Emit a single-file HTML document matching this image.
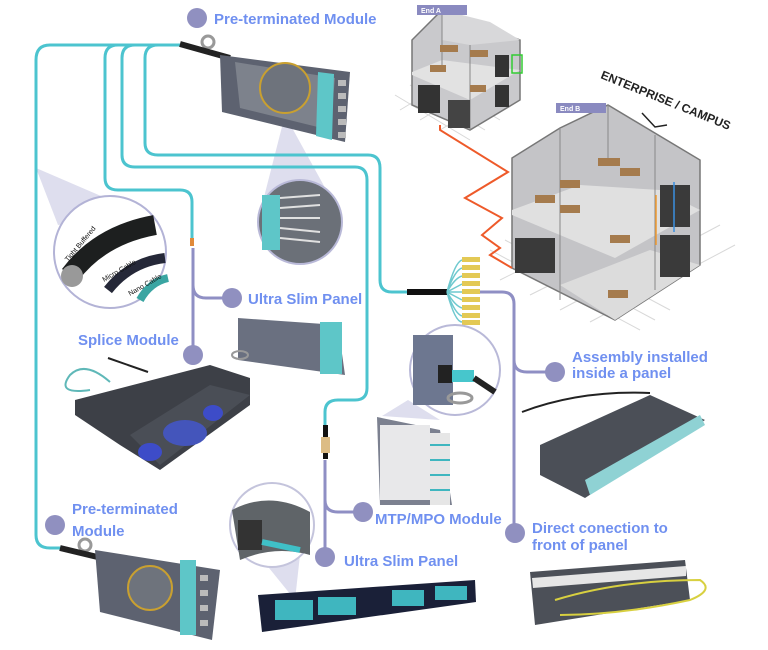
<!DOCTYPE html>
<html><head><style>
body{margin:0;background:#fff;}
svg{display:block;}
.lb{font-family:"Liberation Sans",sans-serif;font-weight:bold;fill:#7090f0;font-size:15px;}
</style></head><body>
<svg width="768" height="650" viewBox="0 0 768 650" xmlns="http://www.w3.org/2000/svg">
<!-- buildings -->
<g stroke="#d8d8d8" stroke-width="1" fill="none">
<path d="M395 95 L470 140 M410 85 L485 130 M425 75 L500 120 M400 110 L450 80 M420 120 L470 90 M440 130 L490 100"/>
<path d="M490 250 L640 330 M505 240 L655 320 M520 230 L670 310 M500 280 L680 190 M530 295 L700 210 M560 310 L720 225 M590 322 L735 245"/>
</g>
<polygon points="412,40 442,10 520,40 520,100 470,130 412,105" fill="#c9c9cc" stroke="#777" stroke-width="1.5"/>
<polygon points="412,72 442,60 520,70 470,100 412,75" fill="#e2e2e2"/>
<polygon points="442,10 490,22 520,40 470,45 442,40" fill="#d8d8da"/>
<line x1="442" y1="10" x2="442" y2="70" stroke="#888"/><line x1="470" y1="45" x2="470" y2="130" stroke="#888"/>
<rect x="418" y="85" width="22" height="28" fill="#333"/><rect x="448" y="100" width="22" height="28" fill="#444"/>
<rect x="495" y="55" width="14" height="22" fill="#333"/><rect x="495" y="85" width="14" height="22" fill="#333"/>
<rect x="512" y="55" width="10" height="18" fill="none" stroke="#3c3" stroke-width="1.5"/>
<rect x="417" y="5" width="50" height="10" fill="#8a8ac0"/><text x="421" y="13" font-family="Liberation Sans" font-size="7" font-weight="bold" fill="#fff">End A</text>
<polygon points="512,158 560,128 608,105 700,160 700,265 615,320 512,268" fill="#c4c4c7" stroke="#777" stroke-width="1.5"/>
<polygon points="512,210 580,185 660,190 700,210 615,258 512,215" fill="#e0e0e0"/>
<polygon points="560,285 650,250 700,265 615,320" fill="#dcdcdc"/>
<line x1="608" y1="105" x2="608" y2="165" stroke="#888"/><line x1="560" y1="128" x2="560" y2="300" stroke="#888"/><line x1="655" y1="135" x2="655" y2="290" stroke="#888"/>
<rect x="515" y="238" width="40" height="35" fill="#3a3a3a"/><rect x="660" y="185" width="30" height="42" fill="#3a3a3a"/><rect x="660" y="235" width="30" height="42" fill="#3a3a3a"/>
<line x1="656" y1="195" x2="656" y2="245" stroke="#f09a30" stroke-width="1.5"/><line x1="674" y1="182" x2="674" y2="232" stroke="#3a90e0" stroke-width="1.5"/>
<g fill="#a57b4d"><rect x="598" y="158" width="22" height="8"/><rect x="620" y="168" width="20" height="8"/><rect x="560" y="180" width="20" height="8"/><rect x="535" y="195" width="20" height="8"/><rect x="560" y="205" width="20" height="8"/><rect x="610" y="235" width="20" height="8"/><rect x="608" y="290" width="20" height="8"/><rect x="440" y="45" width="18" height="7"/><rect x="470" y="50" width="18" height="7"/><rect x="430" y="65" width="16" height="7"/><rect x="470" y="85" width="16" height="7"/></g>
<rect x="556" y="103" width="50" height="10" fill="#8a8ac0"/><text x="560" y="111" font-family="Liberation Sans" font-size="7" font-weight="bold" fill="#fff">End B</text>
<polyline points="440,125 440,130 508,172 465,198 502,218 482,235 500,248 490,255 512,268" fill="none" stroke="#ee5a2a" stroke-width="2"/>
<text x="600" y="78" font-family="Liberation Sans" font-size="12" font-weight="bold" fill="#222" transform="rotate(22 600 78)">ENTERPRISE / CAMPUS</text>
<polyline points="642,113 655,127 667,125" fill="none" stroke="#222" stroke-width="1.5"/>

<!-- cones -->
<polygon points="285,115 262,205 340,215" fill="#d6d6ea" opacity="0.8"/>
<polygon points="36,168 58,225 145,215" fill="#d6d6ea" opacity="0.8"/>
<polygon points="408,400 382,416 440,420" fill="#d6d6ea" opacity="0.8"/>
<polygon points="230,520 295,600 300,555" fill="#d6d6ea" opacity="0.8"/>

<!-- cyan lines -->
<g fill="none" stroke="#4cc4cf" stroke-width="3">
<path d="M185 45 H50 Q36 45 36 60 V535 Q36 548 50 548 H62"/>
<path d="M185 45 H118 Q105 45 105 58 V178 Q105 190 118 190 H180 Q192 190 192 202 V245"/>
<path d="M185 45 H135 Q122 45 122 58 V155 Q122 167 135 167 H355 Q367 167 367 180 V388 Q367 400 355 400 H338 Q325 400 325 412 V428"/>
<path d="M185 45 H158 Q145 45 145 58 V143 Q145 155 158 155 H368 Q380 155 380 168 V280 Q380 292 392 292 H410"/>
</g>
<!-- purple lines -->
<g fill="none" stroke="#8f8fc4" stroke-width="3">
<path d="M193 248 V353 M193 285 Q193 298 206 298 H232"/>
<path d="M325 460 V557 M325 500 Q325 512 338 512 H363"/>
<path d="M480 292 H502 Q514 292 514 304 V533 M514 360 Q514 372 527 372 H552"/>
</g>
<rect x="190" y="238" width="4" height="8" fill="#e08a3a"/>
<rect x="323" y="425" width="5" height="12" fill="#111"/><rect x="321" y="437" width="9" height="16" fill="#dcbc85"/><rect x="323" y="453" width="5" height="6" fill="#111"/>
<rect x="407" y="289" width="40" height="6" fill="#111"/>
<g stroke="#6fc9cf" stroke-width="1.5" fill="none"><path d="M447 292 Q455 262 462 260 M447 292 Q455 270 462 268 M447 292 Q455 278 462 276 M447 292 L462 284 M447 292 L462 292 M447 292 L462 300 M447 292 Q455 306 462 308 M447 292 Q455 314 462 316 M447 292 Q455 322 462 322"/></g>
<g fill="#e3c955"><rect x="462" y="257" width="18" height="5"/><rect x="462" y="265" width="18" height="5"/><rect x="462" y="273" width="18" height="5"/><rect x="462" y="281" width="18" height="5"/><rect x="462" y="289" width="18" height="5"/><rect x="462" y="297" width="18" height="5"/><rect x="462" y="305" width="18" height="5"/><rect x="462" y="313" width="18" height="5"/><rect x="462" y="320" width="18" height="5"/></g>

<!-- top module -->
<circle cx="208" cy="42" r="6" fill="none" stroke="#999" stroke-width="3"/>
<line x1="180" y1="44" x2="230" y2="58" stroke="#222" stroke-width="6"/>
<polygon points="220,55 350,72 345,142 222,112" fill="#5d6270"/>
<polygon points="235,62 335,78 330,130 240,108" fill="#7d828c"/>
<circle cx="285" cy="88" r="25" fill="#6e737c" stroke="#c9a030" stroke-width="2"/>
<polygon points="318,72 334,74 332,140 316,136" fill="#5ec6c8"/>
<g fill="#bbb"><rect x="338" y="80" width="8" height="6"/><rect x="338" y="93" width="8" height="6"/><rect x="338" y="106" width="8" height="6"/><rect x="338" y="119" width="8" height="6"/><rect x="338" y="132" width="8" height="6"/></g>
<!-- zoom circle top -->
<circle cx="300" cy="222" r="42" fill="#6b7078" stroke="#b9b9d8" stroke-width="2"/>
<rect x="262" y="195" width="18" height="55" fill="#5ec6c8"/>
<g stroke="#e0e0e0" stroke-width="2"><line x1="280" y1="198" x2="320" y2="195"/><line x1="280" y1="208" x2="320" y2="205"/><line x1="280" y1="218" x2="320" y2="218"/><line x1="280" y1="228" x2="320" y2="232"/><line x1="280" y1="238" x2="320" y2="242"/></g>
<!-- cable circle -->
<circle cx="110" cy="252" r="56" fill="#fff" stroke="#b3b3d6" stroke-width="2"/>
<path d="M70 275 Q100 235 155 225" stroke="#1d1f1f" stroke-width="20" fill="none"/>
<path d="M108 290 Q130 262 165 258" stroke="#252838" stroke-width="10" fill="none"/>
<path d="M140 300 Q150 282 168 278" stroke="#3aa5a2" stroke-width="8" fill="none"/>
<circle cx="72" cy="276" r="11" fill="#999"/>
<text x="68" y="262" font-family="Liberation Sans" font-size="7" fill="#111" transform="rotate(-50 68 262)">Tight Buffered</text>
<text x="104" y="282" font-family="Liberation Sans" font-size="7" fill="#111" transform="rotate(-30 104 282)">Micro Cable</text>
<text x="130" y="296" font-family="Liberation Sans" font-size="7" fill="#111" transform="rotate(-30 130 296)">Nano Cable</text>

<!-- ultra slim small -->
<polygon points="238,318 338,325 345,375 238,360" fill="#6a7080"/>
<rect x="320" y="322" width="22" height="52" fill="#5ec6c8"/>
<ellipse cx="240" cy="355" rx="8" ry="4" fill="none" stroke="#999" stroke-width="2"/>
<!-- splice module -->
<polygon points="75,400 210,365 250,378 250,405 160,470 120,445 75,415" fill="#3d4047"/>
<polygon points="130,435 210,385 250,395 160,465" fill="#4a4e56"/>
<ellipse cx="185" cy="433" rx="22" ry="13" fill="#4455bb"/><ellipse cx="150" cy="452" rx="12" ry="9" fill="#3d4cc8"/><ellipse cx="213" cy="413" rx="10" ry="8" fill="#3d4cc8"/>
<path d="M90 390 Q55 395 70 375 Q85 360 110 382" fill="none" stroke="#5fb8b8" stroke-width="2"/>
<line x1="108" y1="358" x2="148" y2="372" stroke="#222" stroke-width="2"/>
<!-- bottom module -->
<circle cx="85" cy="545" r="6" fill="none" stroke="#999" stroke-width="3"/>
<line x1="60" y1="548" x2="110" y2="560" stroke="#222" stroke-width="6"/>
<polygon points="95,550 220,570 212,640 100,612" fill="#5d6270"/>
<circle cx="150" cy="588" r="22" fill="#6e737c" stroke="#c9a030" stroke-width="2"/>
<rect x="180" y="560" width="16" height="75" fill="#5ec6c8"/>
<g fill="#bbb"><rect x="200" y="575" width="8" height="6"/><rect x="200" y="590" width="8" height="6"/><rect x="200" y="605" width="8" height="6"/><rect x="200" y="620" width="8" height="6"/></g>
<!-- bottom circle -->
<circle cx="272" cy="525" r="42" fill="#fff" stroke="#c4c4dc" stroke-width="2"/>
<path d="M232 510 Q270 490 310 512 L310 555 Q275 545 240 560 Z" fill="#5f6468"/>
<rect x="238" y="520" width="24" height="30" fill="#333"/>
<line x1="262" y1="542" x2="300" y2="550" stroke="#3fc0c7" stroke-width="6"/>
<!-- bottom ultra slim -->
<polygon points="258,595 475,580 476,602 262,632" fill="#1a2038"/>
<g fill="#3fb6bf"><rect x="275" y="600" width="38" height="20"/><rect x="318" y="597" width="38" height="18"/><rect x="392" y="590" width="32" height="16"/><rect x="435" y="586" width="32" height="14"/></g>
<!-- MTP circle -->
<circle cx="455" cy="370" r="45" fill="#fff" stroke="#b9b9d8" stroke-width="2"/>
<rect x="413" y="335" width="40" height="70" fill="#6d7790"/>
<rect x="438" y="365" width="14" height="18" fill="#222"/><rect x="452" y="370" width="22" height="12" fill="#47c6cc"/>
<line x1="474" y1="378" x2="495" y2="392" stroke="#222" stroke-width="6"/>
<ellipse cx="460" cy="398" rx="12" ry="5" fill="none" stroke="#999" stroke-width="3"/>
<!-- MTP module -->
<polygon points="377,417 440,430 452,505 380,505" fill="#7c8190"/>
<rect x="380" y="425" width="50" height="75" fill="#e8e8ea"/>
<rect x="430" y="433" width="20" height="72" fill="#e6e6e6"/>
<g stroke="#3fb6bf" stroke-width="2"><line x1="430" y1="445" x2="450" y2="445"/><line x1="430" y1="460" x2="450" y2="460"/><line x1="430" y1="475" x2="450" y2="475"/><line x1="430" y1="490" x2="450" y2="490"/></g>
<!-- assembly panel -->
<path d="M522 412 Q580 390 650 393" fill="none" stroke="#222" stroke-width="2"/>
<polygon points="540,445 650,395 705,420 585,498 540,475" fill="#4b4f57"/>
<polygon points="585,480 700,415 705,425 590,495" fill="#8fd2d4"/>
<!-- direct panel -->
<polygon points="530,572 685,560 690,600 535,625" fill="#4c5058"/>
<polygon points="532,578 686,566 686,576 533,588" fill="#e6e6e6"/>
<path d="M555 600 Q620 580 700 580 Q715 590 690 600 Q620 615 560 615" fill="none" stroke="#d8d040" stroke-width="2"/>

<!-- dots and labels -->
<g fill="#9090c0">
<circle cx="197" cy="18" r="10"/><circle cx="232" cy="298" r="10"/><circle cx="193" cy="355" r="10"/>
<circle cx="55" cy="525" r="10"/><circle cx="363" cy="512" r="10"/><circle cx="325" cy="557" r="10"/>
<circle cx="555" cy="372" r="10"/><circle cx="515" cy="533" r="10"/>
</g>
<text class="lb" x="214" y="24">Pre-terminated Module</text>
<text class="lb" x="248" y="304">Ultra Slim Panel</text>
<text class="lb" x="78" y="345">Splice Module</text>
<text class="lb" x="72" y="514">Pre-terminated</text>
<text class="lb" x="72" y="536">Module</text>
<text class="lb" x="375" y="524">MTP/MPO Module</text>
<text class="lb" x="344" y="566">Ultra Slim Panel</text>
<text class="lb" x="572" y="362" font-size="13.5">Assembly installed</text>
<text class="lb" x="572" y="378" font-size="13.5">inside a panel</text>
<text class="lb" x="532" y="533" font-size="13.5">Direct conection to</text>
<text class="lb" x="532" y="550" font-size="13.5">front of panel</text>
</svg>
</body></html>
